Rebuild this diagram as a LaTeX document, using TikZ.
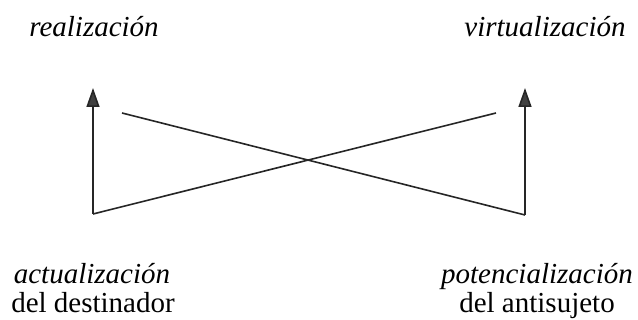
\documentclass[tikz,border=0pt]{standalone}
\usepackage{fontspec}
\setmainfont{Liberation Serif}
\usetikzlibrary{arrows.meta}
\begin{document}
\begin{tikzpicture}[x=1pt,y=1pt,
  lbl/.style={inner sep=0pt,anchor=base,font=\fontsize{29}{30}\selectfont},
  ln/.style={line width=1.6pt,draw=black!85},
  up/.style={ln,-{Triangle[width=13pt,length=19pt,fill=black!75]}}]
\useasboundingbox (0,0) rectangle (638,320);
\node[lbl] (real) at (94,283) {\itshape realización};
\node[lbl] (virt) at (545,283) {\itshape virtualización};
\node[lbl] (act) at (92,36) {\itshape actualización};
\node[lbl] (act2) at (93,7.5) {del destinador};
\node[lbl] (pot) at (537,36) {\itshape potencialización};
\node[lbl] (pot2) at (537,7.5) {del antisujeto};
\coordinate (bl) at (93,106);
\coordinate (br) at (525,105);
\coordinate (tl) at (93,232);
\coordinate (tr) at (525,232);
\coordinate (el) at (122,207);
\coordinate (er) at (496,207);
\draw[up] (bl) -- (tl);
\draw[up] (br) -- (tr);
\draw[ln] (bl) -- (er);
\draw[ln] (el) -- (br);
\end{tikzpicture}
\end{document}
